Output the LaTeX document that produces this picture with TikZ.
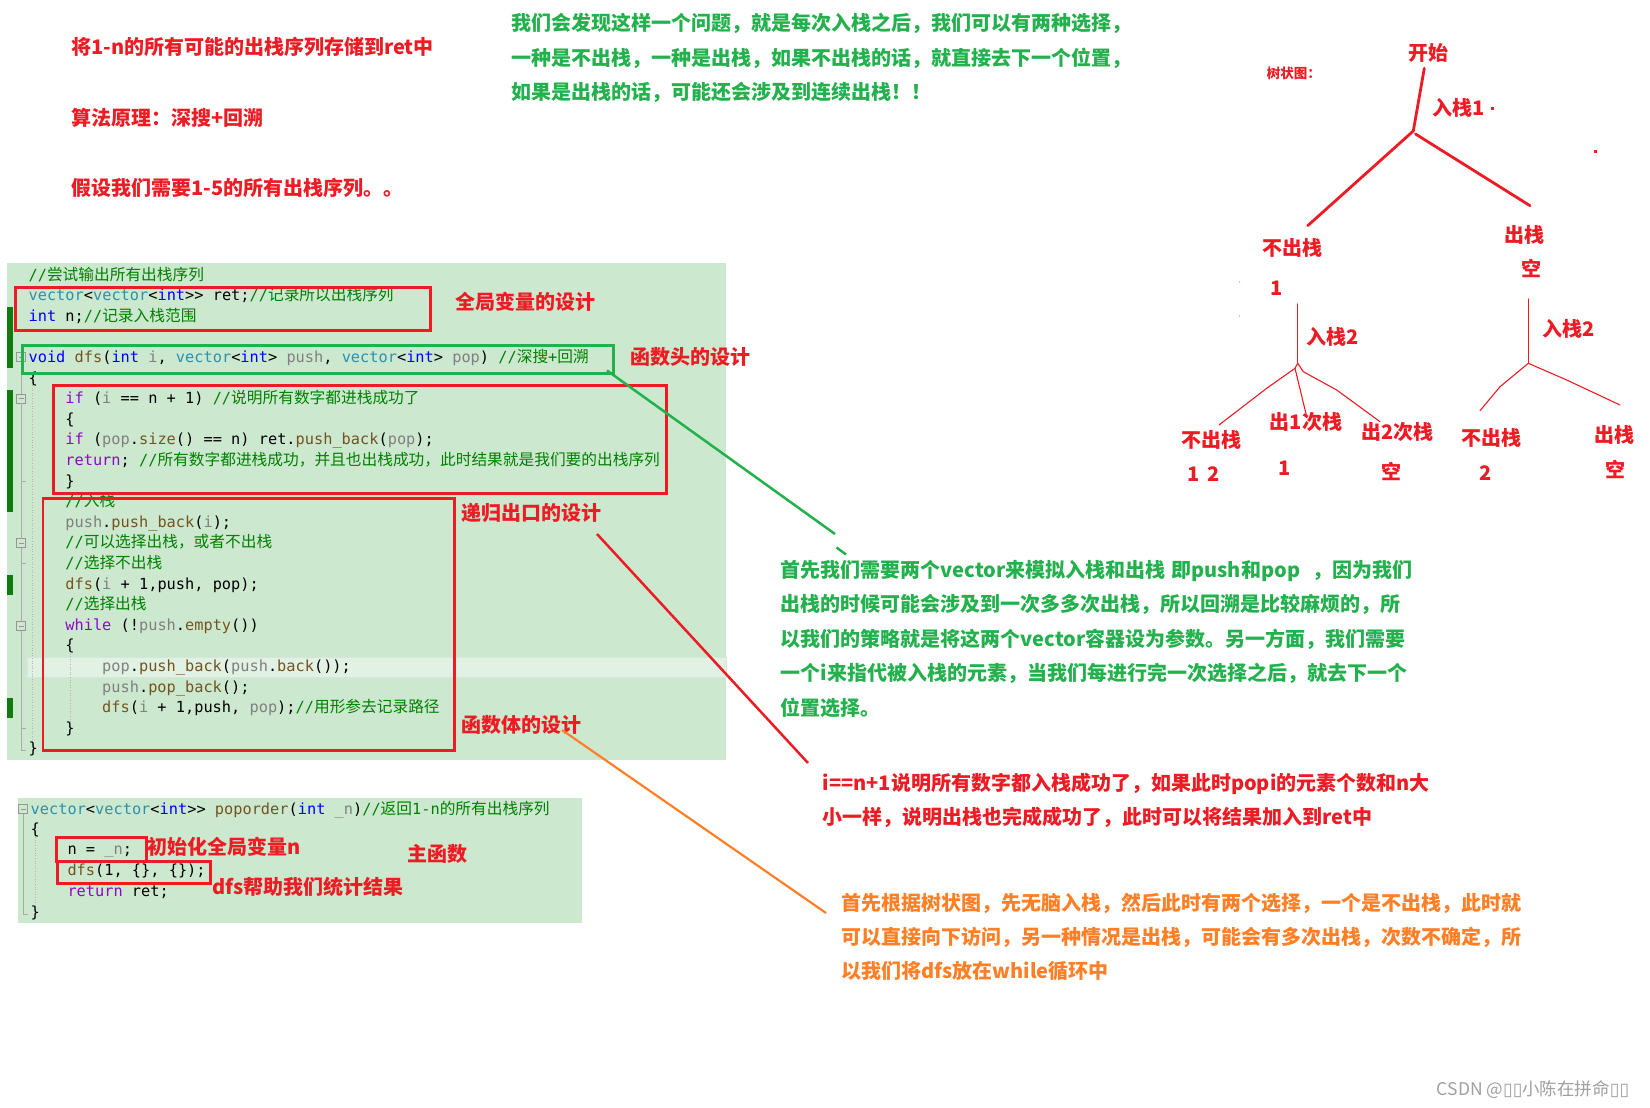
\documentclass[tikz,border=0pt]{standalone}
\usepackage{fontspec}
\newfontfamily\cjk{Noto Sans CJK SC}
\newfontfamily\monof{DejaVu Sans Mono}
\newfontfamily\dejavu{DejaVu Sans}
\definecolor{pred}{RGB}{237,28,36}
\definecolor{pgreen}{RGB}{34,177,76}
\definecolor{porange}{RGB}{255,127,39}
\definecolor{codebg}{RGB}{204,232,207}
\definecolor{kwblue}{RGB}{0,0,255}
\definecolor{tyteal}{RGB}{43,145,175}
\definecolor{ctlpurple}{RGB}{143,8,196}
\definecolor{fnbrown}{RGB}{116,83,31}
\definecolor{pargray}{RGB}{128,128,128}
\definecolor{cmgreen}{RGB}{0,128,0}
\definecolor{barg}{RGB}{16,124,16}
\definecolor{hlband}{RGB}{225,241,227}
\definecolor{hlborder}{RGB}{214,230,216}
\definecolor{wmgray}{RGB}{160,160,160}
\definecolor{foldgray}{RGB}{150,150,150}
\definecolor{tinycyan}{RGB}{160,220,235}
\newcommand\zh[1]{{\cjk\fontsize{15.7}{18}\selectfont #1}}
\newcommand\ckw[1]{\textcolor{kwblue}{#1}}
\newcommand\cty[1]{\textcolor{tyteal}{#1}}
\newcommand\cctl[1]{\textcolor{ctlpurple}{#1}}
\newcommand\cfun[1]{\textcolor{fnbrown}{#1}}
\newcommand\cpar[1]{\textcolor{pargray}{#1}}
\newcommand\ccom[1]{\textcolor{cmgreen}{#1}}
\newcommand\annfont{\cjk\bfseries\fontsize{20}{24}\selectfont}
\newcommand\foldmark[2]{%
  \draw[foldc] (#1-4.5,#2-4.5) rectangle (#1+4.5,#2+4.5);
  \draw[foldc] (#1-2.5,#2) -- (#1+2.5,#2);}
\tikzset{
  code/.style={anchor=base west, inner sep=0, font=\monof\fontsize{15.3}{18}\selectfont},
  ann/.style={anchor=base west, inner sep=0, font=\annfont},
  annr/.style={ann, text=pred},
  anng/.style={ann, text=pgreen},
  anno/.style={ann, text=porange},
  tl/.style={anchor=base, inner sep=0, font=\annfont, text=pred},
  redbox/.style={draw=pred, line width=2.8, inner sep=0, anchor=north west},
  greenbox/.style={draw=pgreen, line width=2.8, inner sep=0, anchor=north west},
  thickbranch/.style={draw=pred, line width=2.8, line cap=round, line join=round},
  thinbranch/.style={draw=pred, line width=1.1, line cap=round, line join=round},
  foldc/.style={draw=foldgray, line width=0.7},
  outl/.style={draw=foldgray!80, line width=0.8},
  guide/.style={draw=foldgray!70, line width=0.6, dotted},
}
\begin{document}
\begin{tikzpicture}[x=1pt,y=-1pt]
\useasboundingbox (0,0) rectangle (1650,1108);
\fill[white] (0,0) rectangle (1650,1108);

% ---------------- top-left red texts ----------------
\node[annr] (t1) at (71,54.1) {将1-n的所有可能的出栈序列存储到ret中};
\node[annr] (t2) at (71,125.7) {算法原理：深搜+回溯};
\node[annr] (t3) at (71,195.7) {假设我们需要1-5的所有出栈序列。。};

% ---------------- top green texts ----------------
\node[anng] (g1) at (511,30.9) {我们会发现这样一个问题，就是每次入栈之后，我们可以有两种选择，};
\node[anng] (g2) at (511,65.4) {一种是不出栈，一种是出栈，如果不出栈的话，就直接去下一个位置，};
\node[anng] (g3) at (511,99.9) {如果是出栈的话，可能还会涉及到连续出栈！！};

% ---------------- main code panel ----------------
\fill[codebg] (7,263) rectangle (726,760);
\filldraw[fill=hlband, draw=hlborder, line width=0.8] (27,657) rectangle (726,677);
\fill[barg] (7,307) rectangle (13,368);
\fill[barg] (7,390) rectangle (13,512);
\fill[barg] (7,575) rectangle (13,595);
\fill[barg] (7,698) rectangle (13,718);
\foldmark{21.2}{357}
\foldmark{21.2}{398.5}
\foldmark{21.2}{543}
\foldmark{21.2}{626}
\draw[outl] (21.2,361.5) -- (21.2,394);
\draw[outl] (21.2,403) -- (21.2,538.5);
\draw[outl] (21.2,547.5) -- (21.2,621.5);
\draw[outl] (21.2,630.5) -- (21.2,750) -- (26,750);
\draw[outl] (21.2,481) -- (26,481);
\draw[outl] (21.2,563) -- (26,563);
\draw[outl] (21.2,728) -- (26,728);
\draw[guide] (32,372) -- (32,745);
\draw[guide] (70,651) -- (70,722);

\node[code] (c0) at (28.4,280.1) {\ccom{//\zh{尝试输出所有出栈序列}}};
\node[code] (c1) at (28.4,300.7) {\cty{vector}<\cty{vector}<\ckw{int}>> ret;\ccom{//\zh{记录所以出栈序列}}};
\node[code] (c2) at (28.4,321.3) {\ckw{int} n;\ccom{//\zh{记录入栈范围}}};
\node[code] (c4) at (28.4,362.5) {\ckw{void} \cfun{dfs}(\ckw{int} \cpar{i}, \cty{vector}<\ckw{int}> \cpar{push}, \cty{vector}<\ckw{int}> \cpar{pop}) \ccom{//\zh{深搜}+\zh{回溯}}};
\node[code] (c5) at (28.4,383.1) {\{};
\node[code] (c6) at (65.2,403.7) {\cctl{if} (\cpar{i} == n + 1) \ccom{//\zh{说明所有数字都进栈成功了}}};
\node[code] (c7) at (65.2,424.3) {\{};
\node[code] (c8) at (65.2,444.9) {\cctl{if} (\cpar{pop}.\cfun{size}() == n) ret.\cfun{push\_back}(\cpar{pop});};
\node[code] (c9) at (65.2,465.5) {\cctl{return}; \ccom{//\zh{所有数字都进栈成功，并且也出栈成功，此时结果就是我们要的出栈序列}}};
\node[code] (c10) at (65.2,486.1) {\}};
\node[code] (c11) at (65.2,506.7) {\ccom{//\zh{入栈}}};
\node[code] (c12) at (65.2,527.3) {\cpar{push}.\cfun{push\_back}(\cpar{i});};
\node[code] (c13) at (65.2,547.9) {\ccom{//\zh{可以选择出栈，或者不出栈}}};
\node[code] (c14) at (65.2,568.5) {\ccom{//\zh{选择不出栈}}};
\node[code] (c15) at (65.2,589.1) {\cfun{dfs}(\cpar{i} + 1,push, pop);};
\node[code] (c16) at (65.2,609.7) {\ccom{//\zh{选择出栈}}};
\node[code] (c17) at (65.2,630.3) {\cctl{while} (!\cpar{push}.\cfun{empty}())};
\node[code] (c18) at (65.2,650.9) {\{};
\node[code] (c19) at (102,671.5) {\cpar{pop}.\cfun{push\_back}(\cpar{push}.\cfun{back}());};
\node[code] (c20) at (102,692.1) {\cpar{push}.\cfun{pop\_back}();};
\node[code] (c21) at (102,712.7) {\cfun{dfs}(\cpar{i} + 1,push, \cpar{pop});\ccom{//\zh{用形参去记录路径}}};
\node[code] (c22) at (65.2,733.3) {\}};
\node[code] (c23) at (28.4,753.9) {\}};

% boxes on main code
\node[redbox, minimum width=415, minimum height=43] (gbox) at (14,286) {};
\node[greenbox, minimum width=591, minimum height=27.4] (hbox) at (21,344.3) {};
\node[redbox, minimum width=613, minimum height=108.3] (xbox) at (52,384) {};
\node[redbox, minimum width=411.5, minimum height=252.6] (bbox) at (41.5,496.7) {};

\node[annr] (lg) at (455,309.1) {全局变量的设计};
\node[annr] (lh) at (630,364.1) {函数头的设计};
\node[annr] (lx) at (461,520.7) {递归出口的设计};
\node[annr] (lb) at (461,732.4) {函数体的设计};

% ---------------- bottom code panel ----------------
\fill[codebg] (18,798) rectangle (582,923);
\foldmark{23}{809}
\draw[outl] (23,813.5) -- (23,914) -- (28,914);
\draw[guide] (35,832) -- (35,905);
\node[code] (m0) at (30.5,814) {\cty{vector}<\cty{vector}<\ckw{int}>> \cfun{poporder}(\ckw{int} \cpar{\_n})\ccom{//\zh{返回}1-n\zh{的所有出栈序列}}};
\node[code] (m1) at (30.5,834.6) {\{};
\node[code] (m2) at (67.3,854.2) {n = \cpar{\raisebox{1.2pt}{\_}n};};
\node[code] (m3) at (67.3,875.8) {\cfun{dfs}(1, \{\}, \{\});};
\node[code] (m4) at (67.3,896.4) {\cctl{return} ret;};
\node[code] (m5) at (30.5,917) {\}};
\node[redbox, minimum width=90, minimum height=24] (nbox) at (54.7,836) {};
\node[redbox, minimum width=153, minimum height=21.7] (dbox) at (56,860) {};
\node[annr] (ln) at (147,854.1) {初始化全局变量n};
\node[annr] (lm) at (407.6,861.4) {主函数};
\node[annr] (ld) at (212,894.4) {dfs帮助我们统计结果};

% ---------------- right paragraphs ----------------
\node[anng] (p1) at (780.5,577.4) {首先我们需要两个vector来模拟入栈和出栈\hspace{6pt}即push和pop\hspace{12pt}，因为我们};
\node[anng] (p2) at (780.5,611.9) {出栈的时候可能会涉及到一次多多次出栈，所以回溯是比较麻烦的，所};
\node[anng] (p3) at (780.5,646.4) {以我们的策略就是将这两个vector容器设为参数。另一方面，我们需要};
\node[anng] (p4) at (780.5,680.9) {一个i来指代被入栈的元素，当我们每进行完一次选择之后，就去下一个};
\node[anng] (p5) at (780.5,715.4) {位置选择。};

\node[annr] (r1) at (822.5,790.7) {i==n+1说明所有数字都入栈成功了，如果此时popi的元素个数和n大};
\node[annr] (r2) at (822.5,824.7) {小一样，说明出栈也完成成功了，此时可以将结果加入到ret中};

\node[anno] (o1) at (841.5,910.4) {首先根据树状图，先无脑入栈，然后此时有两个选择，一个是不出栈，此时就};
\node[anno] (o2) at (841.5,944.4) {可以直接向下访问，另一种情况是出栈，可能会有多次出栈，次数不确定，所};
\node[anno] (o3) at (841.5,978.4) {以我们将dfs放在while循环中};

% ---------------- connectors ----------------
\coordinate (gs) at (607,370.5);
\coordinate (ge) at (835,534);
\coordinate (gd1) at (836.5,547.5);
\coordinate (gd2) at (846,554.5);
\draw[pgreen, line width=2.5] (gs) -- (ge);
\draw[pgreen, line width=2.5] (gd1) -- (gd2);
\coordinate (rs) at (597,534);
\coordinate (re) at (808,763);
\draw[pred, line width=2.5] (rs) -- (re);
\coordinate (os) at (562,730);
\coordinate (oe) at (826,913);
\draw[porange, line width=2.2] (os) -- (oe);

% ---------------- tree ----------------
\node[anchor=base west, inner sep=0, font=\cjk\bfseries\fontsize{13.5}{16}\selectfont, text=pred] (tt) at (1266.7,79) {树状图：};
\node[tl] (start) at (1428,60.1) {开始};
\node[annr] (push1) at (1432.7,115.7) {入栈1};
\fill[pred] (1490.5,106.8) rectangle (1493.5,109.8);
\fill[pred] (1593.5,150.2) rectangle (1596.5,153.2);
\coordinate (s0) at (1424.3,68.3);
\coordinate (j0) at (1413.3,131);
\coordinate (ja) at (1307.7,225.7);
\coordinate (jb0) at (1415.5,134);
\coordinate (jb) at (1530,205.7);
\draw[thickbranch] (s0) -- (j0) -- (ja);
\draw[thickbranch] (jb0) -- (jb);

\node[tl] (nl) at (1292,255.7) {不出栈};
\node[tl] (nl1) at (1276.7,295.5) {1};
\node[tl] (nr) at (1524,242.4) {出栈};
\node[tl] (nr1) at (1531,276.7) {空};
\fill[tinycyan] (1238.5,280.5) rectangle (1239.5,283);
\fill[tinycyan] (1238.5,314.5) rectangle (1239.5,317);

% left subtree
\coordinate (lv0) at (1297.7,304);
\coordinate (lj) at (1297.7,363.3);
\draw[thinbranch] (lv0) -- (lj);
\node[tl] (lp2) at (1333,344.1) {入栈2};
\coordinate (la0) at (1295,368.3);
\coordinate (la1) at (1266.7,388.3);
\coordinate (la2) at (1219,425);
\coordinate (lb2) at (1306.7,416.7);
\coordinate (lc0) at (1303.3,371.7);
\coordinate (lc1) at (1336.7,390);
\coordinate (lc2) at (1380,421.7);
\draw[thinbranch] (lj) -- (la0) -- (la1) -- (la2);
\draw[thinbranch] (la0) -- (lb2);
\draw[thinbranch] (lj) -- (lc0) -- (lc1) -- (lc2);
\node[tl] (l1) at (1211.7,447.4) {不出栈};
\node[tl] (l1v) at (1203.5,481.4) {1\hspace{7pt}2};
\node[tl] (l2) at (1306,429.7) {出1次栈};
\node[tl] (l2v) at (1285,475.7) {1};
\node[tl] (l3) at (1397.3,439.1) {出2次栈};
\node[tl] (l3v) at (1391.7,479.1) {空};

% right subtree
\coordinate (rv0) at (1528.3,299);
\coordinate (rj) at (1528.3,363.3);
\draw[thinbranch] (rv0) -- (rj);
\node[tl] (rp2) at (1569,336.4) {入栈2};
\coordinate (ra1) at (1500,386.7);
\coordinate (ra2) at (1480,410.7);
\coordinate (rb1) at (1566.7,380);
\coordinate (rb2) at (1620,405);
\draw[thinbranch] (rj) -- (ra1) -- (ra2);
\draw[thinbranch] (rj) -- (rb1) -- (rb2);
\node[tl] (r1n) at (1491.8,445.7) {不出栈};
\node[tl] (r1v) at (1486,480.1) {2};
\node[tl] (r2n) at (1614,442.4) {出栈};
\node[tl] (r2v) at (1615.5,477.4) {空};

% ---------------- watermark ----------------
\node[anchor=base west, inner sep=0, font=\cjk\fontsize{17.5}{20}\selectfont, text=wmgray] (wm) at (1436.7,1095.3) {CSDN @{\dejavu ▯▯}小陈在拼命{\dejavu ▯▯}};
\end{tikzpicture}
\end{document}
